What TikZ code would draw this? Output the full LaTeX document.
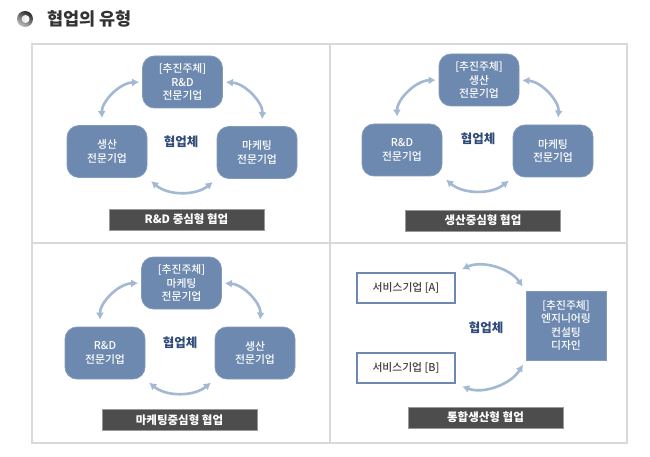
\documentclass[tikz,border=0pt]{standalone}
\usepackage{fontspec}
\setmainfont{Noto Sans CJK KR}
\newfontfamily\firmfont{Noto Sans CJK KR Medium}
\usetikzlibrary{arrows.meta}
\definecolor{firmblue}{HTML}{6D89AF}
\definecolor{linkblue}{HTML}{A3B8D3}
\definecolor{framegray}{HTML}{D9D9D9}
\definecolor{bargray}{HTML}{4D4D4D}
\definecolor{hubblue}{HTML}{2F4B7A}
\begin{document}
\begin{tikzpicture}
[x=1pt,y=-1pt,
  firmdecorate/.style={shape=rectangle,rounded corners=12pt,fill=firmblue,draw=firmblue!85!white,line width=0.8pt,text=white,
    minimum width=80pt,minimum height=52pt,inner sep=1pt,align=center,font=\firmfont\fontsize{10.8}{13.5}\selectfont},%
  servicedecorate/.style={shape=rectangle,fill=white,draw=firmblue,line width=1.5pt,text=black!75,
    minimum width=98pt,minimum height=30pt,inner sep=1pt,font=\firmfont\fontsize{10.8}{13}\selectfont},%
  leaddecorate/.style={shape=rectangle,fill=firmblue,draw=firmblue!85!white,line width=0.8pt,text=white,
    minimum width=80pt,minimum height=69pt,inner sep=1pt,align=center,font=\firmfont\fontsize{10.8}{13.5}\selectfont},%
  hubdecorate/.style={text=hubblue,font=\fontsize{12.5}{14}\selectfont\bfseries},%
  bardecorate/.style={shape=rectangle,fill=bargray,draw=gray!80,line width=0.6pt,text=white,
    minimum width=155pt,minimum height=21pt,inner sep=0pt,font=\fontsize{11.5}{13}\selectfont\bfseries},%
  linkdecorate/.style={{Latex[length=7pt,width=8pt]}-{Latex[length=7pt,width=8pt]},draw=linkblue,line width=2.6pt},
  framedecorate/.style={draw=framegray,line width=2pt}]
%% canvas and title
\path[fill=white] (0,0) rectangle (650,457);
\node (bullet) at (25,19) [circle,minimum size=16pt,inner sep=0pt,left color=black!85,right color=black!25,shading angle=-30] {};
\node (bulletcore) at (25.5,19) [circle,minimum size=8pt,inner sep=0pt,left color=black!10,right color=white] {};
\node (title) at (47,19) [anchor=west,inner sep=0pt,text=black!80,font=\fontsize{17.5}{19}\selectfont\bfseries] {협업의 유형};
%% frame
\draw[framedecorate] (32,44) rectangle (627,443) (330,44) -- (330,443) (32,243) -- (627,243);
%% firms of the three cycles
\foreach \nodename/\x/\y/\txt in {t1/182.5/82/{[추진주체]\\R\&D\\전문기업}, l1/107/151.5/{생산\\전문기업}, r1/257/152.5/{마케팅\\전문기업},
  t2/479/80/{[추진주체]\\생산\\전문기업}, l2/402/150/{R\&D\\전문기업}, r2/553/151/{마케팅\\전문기업},
  t3/181.5/283/{[추진주체]\\마케팅\\전문기업}, l3/105/353/{R\&D\\전문기업}, r3/255/353/{생산\\전문기업}} {
  \node (\nodename) at (\x,\y) [firmdecorate] {\txt};
}
%% hub labels
\foreach \nodename/\x/\y in {c1/181/142, c2/478/139, c3/180/343, c4/486/328} {
  \node (\nodename) at (\x,\y) [hubdecorate] {협업체};
}
%% caption bars
\foreach \nodename/\x/\y/\txt in {b1/186.5/219.5/{R\&D 중심형 협업}, b2/483/220.5/{생산중심형 협업},
  b3/179.5/420/{마케팅중심형 협업}, b4/485.5/417.5/{통합생산형 협업}} {
  \node (\nodename) at (\x,\y) [bardecorate] {\txt};
}
%% integrated type
\node (svca) at (406,288) [servicedecorate] {서비스기업 [A]};
\node (svcb) at (406,368) [servicedecorate] {서비스기업 [B]};
\node (lead) at (566,325.5) [leaddecorate] {[추진주체]\\엔지니어링\\컨설팅\\디자인};
%% links
\path
\foreach \p in {1,2,3} {
  (t\p.west) edge[linkdecorate,bend right=45,shorten <=3pt,shorten >=7pt] (l\p.100)
  (t\p.east) edge[linkdecorate,bend left=45,shorten <=3pt,shorten >=7pt] (r\p.80)
  (l\p.south east) edge[linkdecorate,bend right=40,shorten <=5pt,shorten >=5pt] (r\p.south west)
};
\path
  (svca.north east) edge[linkdecorate,bend left=40,shorten <=7pt,shorten >=5pt] (lead.north west)
  (svcb.south east) edge[linkdecorate,bend right=40,shorten <=7pt,shorten >=5pt] (lead.south west);
\end{tikzpicture}
\end{document}
